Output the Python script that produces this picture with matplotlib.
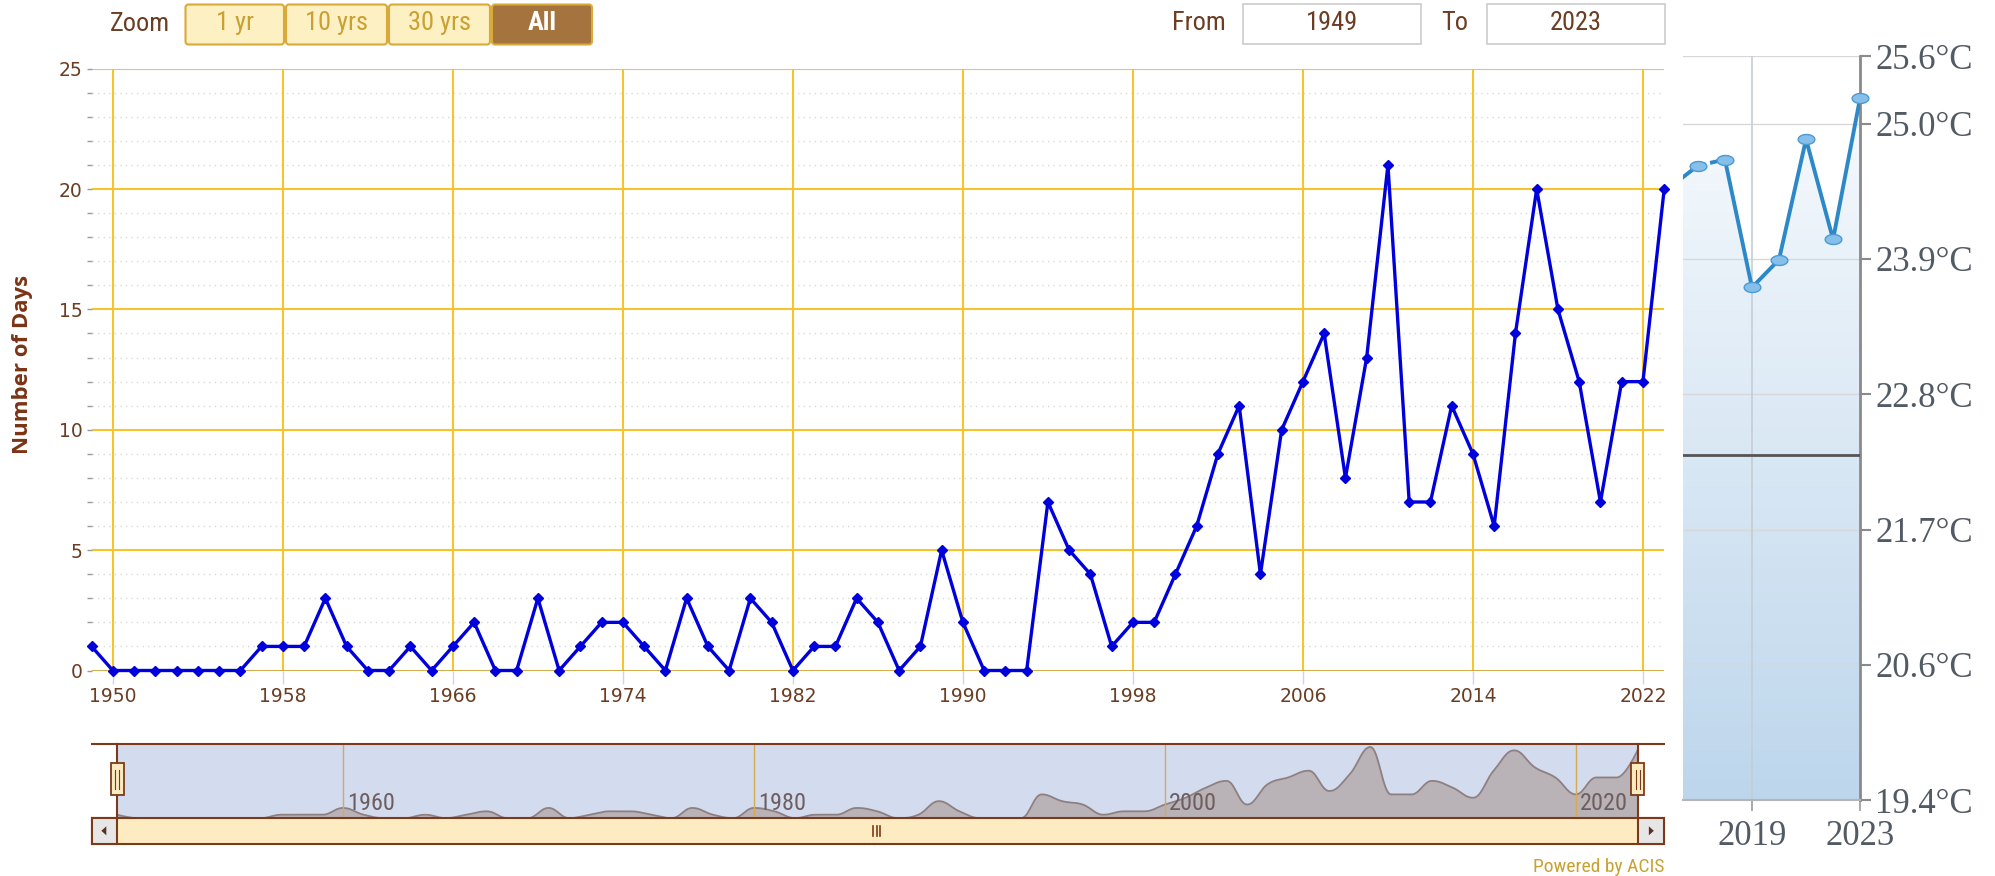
import numpy as np
import matplotlib
matplotlib.use("Agg")
import matplotlib.pyplot as plt
from matplotlib.patches import FancyBboxPatch, Rectangle, Polygon
from matplotlib.path import Path
from matplotlib.colors import LinearSegmentedColormap
from matplotlib import font_manager as fm

# ---------------- data ----------------
years = list(range(1949, 2024))
days = [1, 0, 0, 0, 0, 0, 0, 0, 1, 1,
        1, 3, 1, 0, 0, 1, 0, 1, 2, 0,
        0, 3, 0, 1, 2, 2, 1, 0, 3, 1,
        0, 3, 2, 0, 1, 1, 3, 2, 0, 1,
        5, 2, 0, 0, 0, 7, 5, 4, 1, 2,
        2, 4, 6, 9, 11, 4, 10, 12, 14, 8,
        13, 21, 7, 7, 11, 9, 6, 14, 20, 15,
        12, 7, 12, 12, 20]
x_major_ticks = [1950, 1958, 1966, 1974, 1982, 1990, 1998, 2006, 2014, 2022]
y_major_ticks = [0, 5, 10, 15, 20, 25]
nav_ticks = [1960, 1980, 2000, 2020]
zoom_buttons = ["1 yr", "10 yrs", "30 yrs", "All"]
from_year = "1949"
to_year = "2023"

inset_years = [2016, 2017, 2018, 2019, 2020, 2021, 2022, 2023]
inset_temp_f = [76.07, 76.38, 76.47, 74.58, 74.99, 76.77, 75.29, 77.38]
inset_mean_f = 72.11
inset_y_ticks_f = [67, 69, 71, 73, 75, 77, 78]
inset_x_ticks = [2019, 2023]

# ---------------- helpers ----------------
W, H = 1995, 876
avail = {f.name for f in fm.fontManager.ttflist}


def pick(*names):
    for n in names:
        if n in avail:
            return n
    return "DejaVu Sans"


NARROW = pick("Liberation Sans Narrow", "Roboto Condensed", "Open Sans Condensed", "Liberation Sans")
SERIF = pick("Liberation Serif", "DejaVu Serif")
BOLDF = pick("Open Sans", "Noto Sans", "DejaVu Sans")

BROWN = "#7b3b1b"
TICKC = "#6b3d23"


def rect(x0, y0, x1, y1):
    return [x0 / W, 1 - y1 / H, (x1 - x0) / W, (y1 - y0) / H]


def hc_spline(xv, yv, n=16):
    x = np.asarray(xv, float)
    y = np.asarray(yv, float)
    N = len(x)
    lc = np.zeros((N, 2))
    rc = np.zeros((N, 2))
    s, d = 1.5, 2.5
    for i in range(N):
        if i == 0 or i == N - 1:
            lc[i] = rc[i] = (x[i], y[i])
            continue
        lx = (s * x[i] + x[i - 1]) / d
        ly = (s * y[i] + y[i - 1]) / d
        rx = (s * x[i] + x[i + 1]) / d
        ry = (s * y[i] + y[i + 1]) / d
        if rx != lx:
            corr = ((ry - ly) * (rx - x[i])) / (rx - lx) + y[i] - ry
            ly += corr
            ry += corr
        if ly > max(y[i - 1], y[i]):
            ly = max(y[i - 1], y[i]); ry = 2 * y[i] - ly
        elif ly < min(y[i - 1], y[i]):
            ly = min(y[i - 1], y[i]); ry = 2 * y[i] - ly
        if ry > max(y[i], y[i + 1]):
            ry = max(y[i], y[i + 1]); ly = 2 * y[i] - ry
        elif ry < min(y[i], y[i + 1]):
            ry = min(y[i], y[i + 1]); ly = 2 * y[i] - ry
        lc[i] = (lx, ly)
        rc[i] = (rx, ry)
    t = np.linspace(0, 1, n, endpoint=False)[:, None]
    pts = []
    for i in range(1, N):
        p0 = np.array([x[i - 1], y[i - 1]])
        p1 = rc[i - 1]
        p2 = lc[i]
        p3 = np.array([x[i], y[i]])
        b = ((1 - t) ** 3) * p0 + 3 * ((1 - t) ** 2) * t * p1 + 3 * (1 - t) * t ** 2 * p2 + t ** 3 * p3
        pts.append(b)
    pts.append(np.array([[x[-1], y[-1]]]))
    pts = np.vstack(pts)
    return pts[:, 0], pts[:, 1]


fig = plt.figure(figsize=(W / 100, H / 100), dpi=100)
fig.patch.set_facecolor("white")

# ---------------- main chart ----------------
ax = fig.add_axes(rect(91.6, 68.7, 1664.2, 670.5))
ax.set_xlim(1949, 2023)
ax.set_ylim(0, 25)
for sp in ax.spines.values():
    sp.set_visible(False)
for v in range(1, 25):
    if v % 5:
        ax.axhline(v, color="#d9d9d9", lw=1.0, ls=(0, (1, 3)), zorder=1)
for v in y_major_ticks[1:]:
    ax.axhline(v, color="#f6c52e", lw=1.5, zorder=1.5)
for xv in x_major_ticks:
    ax.axvline(xv, color="#f6c52e", lw=1.5, zorder=1.5)
ax.axhline(0, color="#d0a43c", lw=2, zorder=2)
ax.plot(years, days, color="#0000dd", lw=2.4, marker="D", ms=5.5,
        clip_on=False, zorder=5)
ax.set_yticks(y_major_ticks)
ax.set_yticks(range(0, 26), minor=True)
ax.set_xticks(x_major_ticks)
ax.tick_params(axis="y", which="both", length=3.6, width=1, color="#9a9a9a",
               pad=3, labelsize=13.5, labelcolor=TICKC)
ax.tick_params(axis="x", length=9, width=1, color="#ccd6eb", pad=3,
               labelsize=13.5, labelcolor=TICKC)
fig.text(23 / W, 1 - 364 / H, "Number of Days", rotation=90, ha="center",
         va="center", fontsize=16, fontweight="bold", color="#7a3315",
         family=[BOLDF, "DejaVu Sans"])

# ---------------- navigator ----------------
nav = fig.add_axes(rect(117.05, 744.3, 1637.5, 818.1))
nav.set_xlim(1949, 2023)
nav.set_ylim(0, 21.8)
nav.set_facecolor("#d3dbef")
for sp in nav.spines.values():
    sp.set_visible(False)
nav.set_xticks([])
nav.set_yticks([])
sx, sy = hc_spline(years, days)
nav.fill_between(sx, sy, 0, color="#b9b2b6", zorder=2, lw=0)
nav.plot(sx, sy, color="#8e7f80", lw=1.3, zorder=3)
for t in nav_ticks:
    nav.axvline(t, color="#d6ab52", lw=1, zorder=4)
    nav.text(t + 0.2, 0.2, str(t), transform=nav.get_xaxis_transform(),
             ha="left", va="center", fontsize=17.5, color="#6e5e60",
             family=[NARROW, "DejaVu Sans"], zorder=5)

# ---------------- inset ----------------
ins = fig.add_axes(rect(1683.3, 56, 1860.1, 800.3))
x0i, x1i = 2016.46, 2023
grad = np.linspace(0, 1, 256).reshape(-1, 1)
cmap = LinearSegmentedColormap.from_list("g", ["#fafcfe", "#bdd6ec"])
im = ins.imshow(grad, extent=[x0i, x1i, 67, 78], origin="upper", cmap=cmap,
                aspect="auto", zorder=0.5, interpolation="bilinear")
poly = Polygon([(inset_years[0], 67)] + list(zip(inset_years, inset_temp_f)) +
               [(inset_years[-1], 67)], closed=True, transform=ins.transData,
               facecolor="none", edgecolor="none")
ins.add_patch(poly)
im.set_clip_path(poly)
ins.set_xlim(x0i, x1i)
ins.set_ylim(67, 78)
for sp in ["left", "top"]:
    ins.spines[sp].set_visible(False)
ins.spines["right"].set_color("#8a8a8a")
ins.spines["right"].set_linewidth(2)
ins.spines["bottom"].set_color("#b5b5b5")
ins.spines["bottom"].set_linewidth(1.5)
for t in inset_y_ticks_f:
    ins.axhline(t, color="#d8d8d8", lw=1, zorder=1)
ins.axvline(2019, color="#c5cdd5", lw=1.2, zorder=1)
ins.axhline(inset_mean_f, color="#555555", lw=2, zorder=3)
LC = "#2d88c8"
ins.plot(inset_years[:2], inset_temp_f[:2], color=LC, lw=2.8, zorder=4)
ins.plot(inset_years[1:3], inset_temp_f[1:3], color=LC, lw=2.8, ls=(0, (2, 1.2)), zorder=4)
ins.plot(inset_years[2:], inset_temp_f[2:], color=LC, lw=2.8, zorder=4)
tt = np.linspace(0, 2 * np.pi, 60)
ell = Path(np.c_[np.cos(tt), 0.6 * np.sin(tt)], closed=True)
ins.plot(inset_years[1:], inset_temp_f[1:], ls="none", marker=ell, ms=12,
         mfc="#86c0ea", mec="#4a9ad4", mew=1, clip_on=False, zorder=5)
ins.yaxis.tick_right()
ins.set_yticks(inset_y_ticks_f)
ins.set_yticklabels([f"{(f - 32) * 5 / 9:.1f}°C" for f in inset_y_ticks_f],
                    family=[SERIF, "DejaVu Serif"])
ins.set_xticks(inset_x_ticks)
ins.set_xticklabels([str(v) for v in inset_x_ticks], family=[SERIF, "DejaVu Serif"])
ins.tick_params(axis="y", length=8, width=1.5, color="#8a8a8a", pad=3,
                labelsize=25, labelcolor="#525a64")
ins.tick_params(axis="x", length=8, width=1.2, color="#9a9a9a", pad=6,
                labelsize=25, labelcolor="#525a64")

# ---------------- overlay UI ----------------
ov = fig.add_axes([0, 0, 1, 1], zorder=10)
ov.set_xlim(0, W)
ov.set_ylim(H, 0)
ov.axis("off")
ov.patch.set_visible(False)

uif = [NARROW, "DejaVu Sans"]
UIS = 19
ov.text(140, 24, "Zoom", ha="center", va="center", fontsize=UIS, color="#6b3d23", family=uif)
bx = [184.5, 285, 388, 491, 593]
for i, lab in enumerate(zoom_buttons):
    sel = lab == "All"
    p = FancyBboxPatch((bx[i] + 1, 4.5), bx[i + 1] - bx[i] - 2, 40,
                       boxstyle="round,pad=0,rounding_size=3",
                       facecolor="#a5733d" if sel else "#fdf0c3",
                       edgecolor="#d9aa3a", lw=1.5)
    ov.add_patch(p)
    ov.text((bx[i] + bx[i + 1]) / 2, 23, lab, ha="center", va="center",
            fontsize=UIS, color="white" if sel else "#c9a032",
            fontweight="bold" if sel else "normal", family=uif)

ov.text(1199, 23, "From", ha="center", va="center", fontsize=UIS, color="#6b3d23", family=uif)
ov.add_patch(Rectangle((1243, 4), 178, 40, facecolor="white", edgecolor="#cccccc", lw=1.2))
ov.text(1332, 23, from_year, ha="center", va="center", fontsize=UIS, color="#6b3d23", family=uif)
ov.text(1455, 23, "To", ha="center", va="center", fontsize=UIS, color="#6b3d23", family=uif)
ov.add_patch(Rectangle((1487, 4), 178, 40, facecolor="white", edgecolor="#cccccc", lw=1.2))
ov.text(1576, 23, to_year, ha="center", va="center", fontsize=UIS, color="#6b3d23", family=uif)

# navigator outline
ov.plot([91.6, 1664.2], [744.3, 744.3], color=BROWN, lw=1.5, zorder=2)
ov.plot([117.05, 117.05], [744.3, 818.1], color=BROWN, lw=1.5, zorder=2)
ov.plot([1637.5, 1637.5], [744.3, 818.1], color=BROWN, lw=1.5, zorder=2)
# scrollbar
ov.add_patch(Rectangle((91.6, 818.1), 1664.2 - 91.6, 25.4, facecolor="#fdecc2",
                       edgecolor=BROWN, lw=1.5, zorder=3))
for xa, xb, d in [(91.6, 117.05, -1), (1637.5, 1664.2, 1)]:
    ov.add_patch(Rectangle((xa, 818.1), xb - xa, 25.4, facecolor="#e6e6e6",
                           edgecolor=BROWN, lw=1.5, zorder=3.5))
    cx, cy = (xa + xb) / 2, 830.8
    ov.add_patch(Polygon([(cx + 3 * d, cy), (cx - 2 * d, cy - 4.5), (cx - 2 * d, cy + 4.5)],
                         closed=True, facecolor="#5a3020", edgecolor="none", zorder=4))
gx = 876.6
for dx in (-3.5, 0, 3.5):
    ov.plot([gx + dx, gx + dx], [825.5, 836], color=BROWN, lw=1.2, zorder=4)
# handles
for hx in (117.05, 1637.5):
    ov.add_patch(Rectangle((hx - 6.5, 763.4), 13, 31.8, facecolor="#fdebc0",
                           edgecolor=BROWN, lw=1.3, zorder=6))
    for dx in (-2.0, 2.0):
        ov.plot([hx + dx, hx + dx], [770, 789], color=BROWN, lw=0.8, zorder=7)

ov.text(1664, 867, "Powered by ACIS", ha="right", va="center", fontsize=14,
        color="#c9a032", family=uif)

fig.savefig("out.png", dpi=100, facecolor="white")
